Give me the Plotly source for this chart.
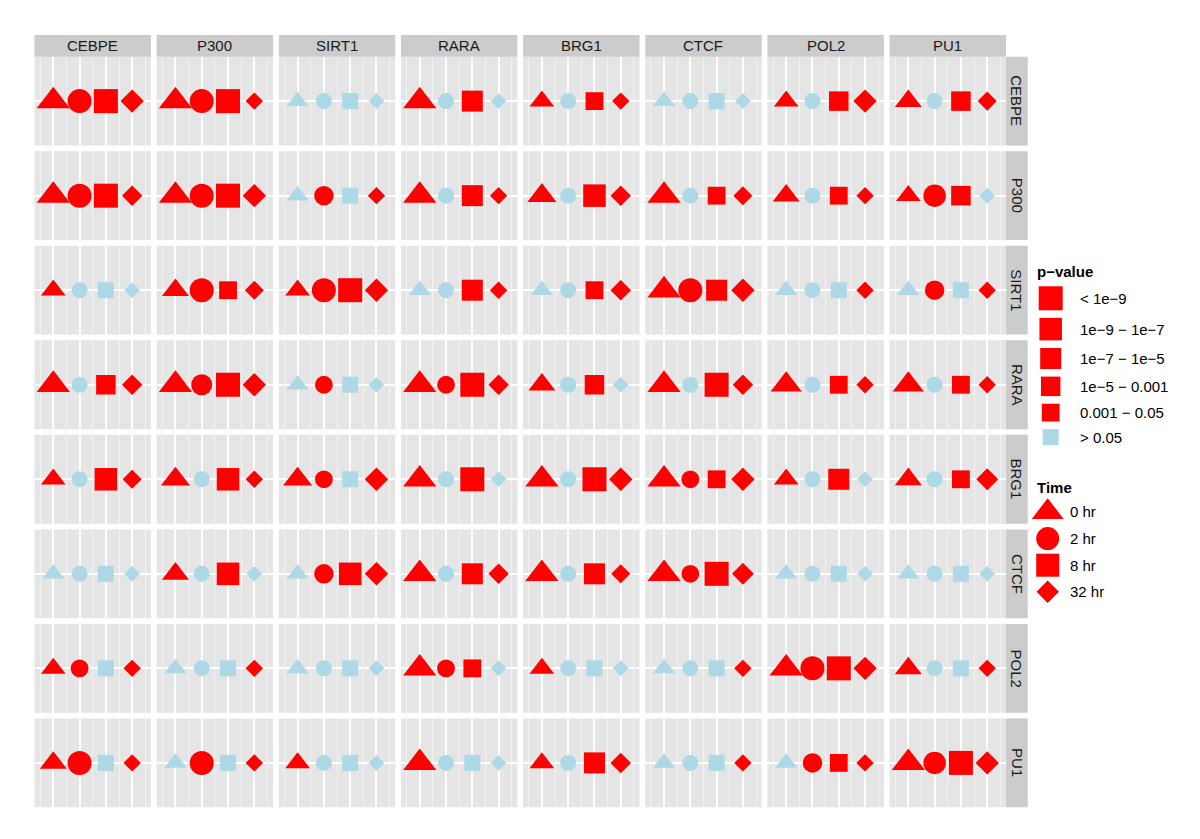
import plotly.graph_objects as go

# ---------------- data ----------------
factors = ["CEBPE", "P300", "SIRT1", "RARA", "BRG1", "CTCF", "POL2", "PU1"]
times = ["0 hr", "2 hr", "8 hr", "32 hr"]
time_values = [1, 2, 3, 4]
pvalue_bins = ["< 1e−9", "1e−9 − 1e−7", "1e−7 − 1e−5", "1e−5 − 0.001", "0.001 − 0.05", "> 0.05"]

# p-value bin (1 = < 1e-9 ... 6 = > 0.05) for each column factor, at 0/2/8/32 hr
row_CEBPE = [[1, 1, 1, 1], [1, 1, 1, 5], [6, 6, 6, 6], [1, 6, 3, 6],
             [5, 6, 5, 5], [6, 6, 6, 6], [5, 6, 4, 1], [4, 6, 4, 4]]
row_P300 = [[1, 1, 1, 3], [1, 1, 1, 1], [6, 4, 6, 5], [1, 6, 3, 5],
            [3, 6, 2, 3], [1, 6, 5, 4], [4, 6, 5, 5], [5, 2, 4, 6]]
row_SIRT1 = [[5, 6, 6, 6], [4, 1, 5, 4], [5, 1, 1, 1], [6, 6, 3, 5],
             [6, 6, 5, 3], [1, 1, 3, 1], [6, 6, 6, 5], [6, 4, 6, 5]]
row_RARA = [[1, 6, 4, 3], [1, 3, 1, 1], [6, 5, 6, 6], [1, 5, 1, 3],
            [4, 6, 4, 6], [1, 6, 1, 3], [2, 6, 5, 5], [2, 6, 5, 5]]
row_BRG1 = [[5, 6, 2, 4], [3, 6, 2, 5], [3, 5, 6, 1], [1, 6, 1, 6],
            [1, 6, 1, 1], [1, 5, 5, 1], [5, 6, 3, 6], [4, 6, 5, 2]]
row_CTCF = [[6, 6, 6, 6], [4, 6, 2, 6], [6, 4, 2, 1], [1, 6, 3, 3],
            [1, 6, 3, 4], [1, 5, 1, 2], [6, 6, 6, 6], [6, 6, 6, 6]]
row_POL2 = [[5, 5, 6, 5], [6, 6, 6, 5], [6, 6, 6, 6], [1, 5, 5, 6],
            [5, 6, 6, 6], [6, 6, 6, 5], [1, 1, 1, 1], [4, 6, 6, 5]]
row_PU1 = [[4, 1, 6, 5], [6, 1, 6, 5], [5, 6, 6, 6], [1, 6, 6, 6],
           [5, 6, 3, 3], [6, 6, 6, 5], [6, 4, 5, 5], [1, 2, 1, 1]]

rows_data = [row_CEBPE, row_P300, row_SIRT1, row_RARA, row_BRG1, row_CTCF, row_POL2, row_PU1]

# ---------------- style / layout (page pixels) ----------------
W, H = 1200, 839
OFF = 8                      # page body margin
FW, FH = W - OFF, H - OFF    # figure size
PX0, PW, GAP = 34.5, 116.45, 5.7
PY0, PH = 56.7, 88.84
STRIP = 21.7
PANEL_BG = "#E5E5E5"
STRIP_BG = "#CCCCCC"
RED = "#FF0000"
LBLUE = "#ADD8E6"
FONT = "Liberation Sans, Arial, Helvetica, sans-serif"
bin_px = [24, 22.5, 21, 19.5, 17.8, 16]          # square side per bin
symbols = ["triangle-up", "circle", "square", "diamond"]
sym_scale = [1.2, 1.0, 1.0, 0.75]


def fx(p):
    return (p - OFF) / FW


def fy(p):
    return 1 - (p - OFF) / FH


def bin_color(b):
    return LBLUE if b == 6 else RED


fig = go.Figure()
shapes = []
annotations = []
layout_axes = {}

for r, rowf in enumerate(factors):
    top = PY0 + r * (PH + GAP)
    ydom = [fy(top + PH), fy(top)]
    for c, colf in enumerate(factors):
        left = PX0 + c * (PW + GAP)
        xdom = [fx(left), fx(left + PW)]
        k = r * 8 + c + 1
        xa = "x" if k == 1 else f"x{k}"
        ya = "y" if k == 1 else f"y{k}"
        bins = rows_data[r][c]
        fig.add_trace(go.Scatter(
            x=time_values, y=[1] * 4, xaxis=xa, yaxis=ya, mode="markers",
            marker=dict(symbol=symbols,
                        size=[bin_px[b - 1] * s for b, s in zip(bins, sym_scale)],
                        color=[bin_color(b) for b in bins],
                        line=dict(width=0), opacity=1),
            text=[f"{rowf} / {colf}, {t}: p {pvalue_bins[b - 1]}" for t, b in zip(times, bins)],
            hoverinfo="text", showlegend=False, cliponaxis=False))
        xkey = "xaxis" if k == 1 else f"xaxis{k}"
        ykey = "yaxis" if k == 1 else f"yaxis{k}"
        layout_axes[xkey] = dict(
            domain=xdom, anchor=ya, range=[0.285, 4.715], showticklabels=False,
            ticks="", zeroline=False, showline=False, showgrid=True,
            tickmode="array", tickvals=time_values, gridcolor="white", gridwidth=1.8,
            minor=dict(tickmode="array", tickvals=[0.5, 1.5, 2.5, 3.5, 4.5],
                       showgrid=True, gridcolor="#F2F2F2", gridwidth=1, ticks=""),
            fixedrange=True)
        layout_axes[ykey] = dict(
            domain=ydom, anchor=xa, range=[0, 2], showticklabels=False, ticks="",
            zeroline=False, showline=False, showgrid=True, tickmode="array",
            tickvals=[1], gridcolor="white", gridwidth=1.8, fixedrange=True)
        shapes.append(dict(type="rect", xref="paper", yref="paper", layer="below",
                           x0=xdom[0], x1=xdom[1], y0=ydom[0], y1=ydom[1],
                           fillcolor=PANEL_BG, line=dict(width=0)))

# top strips
for c, colf in enumerate(factors):
    left = PX0 + c * (PW + GAP)
    shapes.append(dict(type="rect", xref="paper", yref="paper", layer="below",
                       x0=fx(left), x1=fx(left + PW),
                       y0=fy(PY0), y1=fy(PY0 - STRIP),
                       fillcolor=STRIP_BG, line=dict(width=0)))
    annotations.append(dict(text=colf, xref="paper", yref="paper",
                            x=fx(left + PW / 2), y=fy(PY0 - STRIP / 2),
                            showarrow=False, xanchor="center", yanchor="middle",
                            font=dict(family=FONT, size=15, color="#1A1A1A")))

# right strips
right_edge = PX0 + 8 * PW + 7 * GAP
for r, rowf in enumerate(factors):
    top = PY0 + r * (PH + GAP)
    shapes.append(dict(type="rect", xref="paper", yref="paper", layer="below",
                       x0=fx(right_edge), x1=fx(right_edge + STRIP),
                       y0=fy(top + PH), y1=fy(top),
                       fillcolor=STRIP_BG, line=dict(width=0)))
    annotations.append(dict(text=rowf, xref="paper", yref="paper",
                            x=fx(right_edge + STRIP / 2), y=fy(top + PH / 2),
                            showarrow=False, xanchor="center", yanchor="middle",
                            textangle=90,
                            font=dict(family=FONT, size=15, color="#1A1A1A")))

# ---------------- custom legends (pixel overlay axis) ----------------
LEG_X = 1035
PV_KEY_X, PV_LAB_X = 1050.7, 1077.7
PV_TITLE_Y, PV_FIRST_Y, PV_PAD = 271, 298.3, 7.6
TM_KEY_X, TM_LAB_X = 1047.7, 1067.7
TM_TITLE_Y, TM_FIRST_Y, TM_STEP = 487.7, 512, 26.6
TM_KEY_PX = 23

pv_y = [PV_FIRST_Y]
for i in range(1, len(pvalue_bins)):
    pv_y.append(pv_y[-1] + (bin_px[i - 1] + bin_px[i]) / 2 + PV_PAD)
tm_y = [TM_FIRST_Y + i * TM_STEP for i in range(len(times))]

fig.add_trace(go.Scatter(
    x=[PV_KEY_X] * len(pvalue_bins), y=pv_y, xaxis="x65", yaxis="y65",
    mode="markers", hoverinfo="skip", showlegend=False, cliponaxis=False,
    marker=dict(symbol="square", size=bin_px, opacity=1,
                color=[bin_color(i + 1) for i in range(len(pvalue_bins))],
                line=dict(width=0))))
fig.add_trace(go.Scatter(
    x=[TM_KEY_X] * len(times), y=tm_y, xaxis="x65", yaxis="y65",
    mode="markers", hoverinfo="skip", showlegend=False, cliponaxis=False,
    marker=dict(symbol=symbols, size=[TM_KEY_PX * s for s in sym_scale],
                color=RED, opacity=1, line=dict(width=0))))

layout_axes["xaxis65"] = dict(domain=[0, 1], range=[OFF, W], visible=False,
                              anchor="y65", fixedrange=True)
layout_axes["yaxis65"] = dict(domain=[0, 1], range=[H, OFF], visible=False,
                              anchor="x65", fixedrange=True)

annotations.append(dict(text="<b>p−value</b>", xref="paper", yref="paper",
                        x=fx(LEG_X), y=fy(PV_TITLE_Y), showarrow=False,
                        xanchor="left", yanchor="middle",
                        font=dict(family=FONT, size=15, color="black")))
for lab, yy in zip(pvalue_bins, pv_y):
    annotations.append(dict(text=lab, xref="paper", yref="paper",
                            x=fx(PV_LAB_X), y=fy(yy), showarrow=False,
                            xanchor="left", yanchor="middle",
                            font=dict(family=FONT, size=15, color="black")))
annotations.append(dict(text="<b>Time</b>", xref="paper", yref="paper",
                        x=fx(LEG_X), y=fy(TM_TITLE_Y), showarrow=False,
                        xanchor="left", yanchor="middle",
                        font=dict(family=FONT, size=15, color="black")))
for lab, yy in zip(times, tm_y):
    annotations.append(dict(text=lab, xref="paper", yref="paper",
                            x=fx(TM_LAB_X), y=fy(yy), showarrow=False,
                            xanchor="left", yanchor="middle",
                            font=dict(family=FONT, size=15, color="black")))

fig.update_layout(
    width=FW, height=FH, margin=dict(l=0, r=0, t=0, b=0, pad=0),
    paper_bgcolor="white", plot_bgcolor="rgba(0,0,0,0)",
    showlegend=False, shapes=shapes, annotations=annotations,
    font=dict(family=FONT), **layout_axes)

fig.write_html("out.html")
